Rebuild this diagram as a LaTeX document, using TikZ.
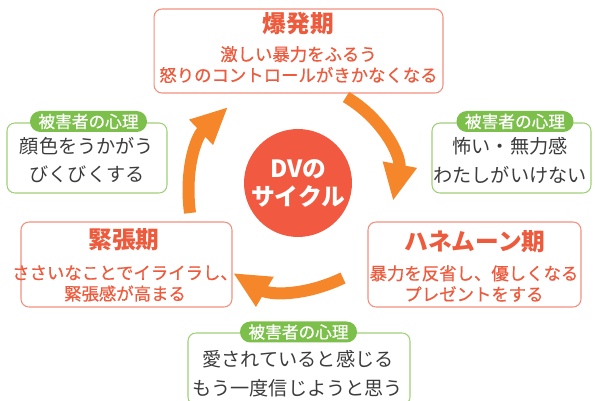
\documentclass[tikz,border=0pt]{standalone}
\usepackage{fontspec}
\setmainfont{Noto Sans CJK JP}
\newfontfamily\medfont{Noto Sans CJK JP}[FakeBold=0.5]
\usetikzlibrary{arrows.meta}

\definecolor{phasered}{HTML}{EE5A3C}
\definecolor{phaseline}{HTML}{F2907E}
\definecolor{dvred}{HTML}{F15A40}
\definecolor{cycleorange}{HTML}{F5872A}
\definecolor{mindgreen}{HTML}{7CBF4B}
\definecolor{mindline}{HTML}{A0D07A}
\definecolor{mindtext}{HTML}{3C3C3C}

\begin{document}
\begin{tikzpicture}[x=0.02cm,y=-0.02cm,
    phasebox/.style={draw=phaseline,line width=0.6pt,rounded corners=4.5pt,fill=white},
    phasetitle/.style={text=phasered,font=\fontsize{13.5}{15}\bfseries\selectfont},
    phasetext/.style={text=phasered,align=center,font=\fontsize{9.9}{11.9}\medfont},
    mindbox/.style={draw=mindline,line width=0.6pt,rounded corners=4.5pt,fill=white},
    mindtag/.style={fill=mindgreen,rounded corners=5.9pt,minimum width=2.34cm,minimum height=0.42cm,
      inner sep=0pt,text=white,font=\fontsize{9.5}{11}\medfont},
    mindtext/.style={text=mindtext,align=center,font=\fontsize{10.9}{16.2}\selectfont},
    cyclearrow/.style={draw=cycleorange,line width=0.24cm,-{Triangle[length=0.74cm,width=0.64cm]}}]
  \useasboundingbox (0,0) rectangle (595,401);

  % the three phases
  \node[phasebox,minimum width=5.78cm,minimum height=1.68cm] (burst) at (298.5,51) {};
  \node[phasetitle] (bursttitle) at (298.5,24) {爆発期};
  \node[phasetext] (bursttext) at (298.5,64.5) {激しい暴力をふるう\\怒りのコントロールがきかなくなる};

  \node[phasebox,minimum width=4.26cm,minimum height=1.7cm] (honey) at (474.5,264.5) {};
  \node[phasetitle] (honeytitle) at (475,242) {ハネムーン期};
  \node[phasetext] (honeytext) at (474,283.5) {暴力を反省し、優しくなる\\プレゼントをする};

  \node[phasebox,minimum width=4.22cm,minimum height=1.7cm] (tension) at (126.5,264.5) {};
  \node[phasetitle] (tensiontitle) at (124,240) {緊張期};
  \node[phasetext] (tensiontext) at (125,283.5) {ささいなことでイライラし、\\緊張感が高まる};

  % victim side
  \node[mindbox,minimum width=3.2cm,minimum height=1.4cm] (mindleft) at (87,158) {};
  \node[mindtag] (tagleft) at (88.5,121.5) {被害者の心理};
  \node[mindtext] (textleft) at (87,160) {顔色をうかがう\\びくびくする};

  \node[mindbox,minimum width=3.18cm,minimum height=1.4cm] (mindright) at (511.5,158) {};
  \node[mindtag] (tagright) at (515,121.5) {被害者の心理};
  \node[mindtext] (textright) at (510,160.5) {怖い・無力感\\わたしがいけない};

  \node[mindbox,minimum width=4.44cm,minimum height=1.44cm] (mindbottom) at (299,369) {};
  \node[mindtag] (tagbottom) at (298.5,332) {被害者の心理};
  \node[mindtext] (textbottom) at (298,373.5) {愛されていると感じる\\もう一度信じようと思う};

  % centre
  \node[circle,fill=dvred,minimum size=2.16cm,inner sep=0pt,align=center,text=white,
    font=\fontsize{13.5}{15.9}\bfseries\selectfont] (dv) at (298,183) {DVの\\サイクル};

  % arrows
  \coordinate (burstout) at (346,97);
  \coordinate (honeyin) at (393,201);
  \coordinate (honeyout) at (343,278);
  \coordinate (tensionin) at (233,273);
  \coordinate (tensionout) at (190,213);
  \coordinate (burstin) at (228,107);
  \draw[cyclearrow] (burstout) to[bend left=35] (honeyin);
  \draw[cyclearrow] (honeyout) to[bend left=28] (tensionin);
  \draw[cyclearrow] (tensionout) to[bend left=27] (burstin);
\end{tikzpicture}
\end{document}
